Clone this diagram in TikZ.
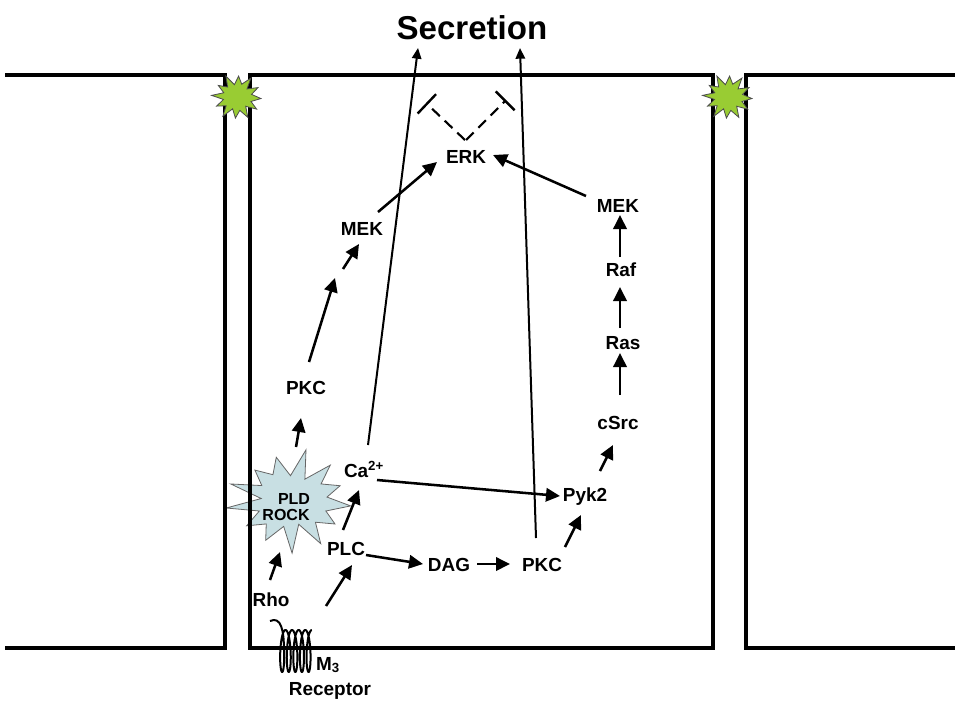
\documentclass[tikz,border=0pt]{standalone}
\usepackage{fontspec}
\setmainfont{Liberation Sans}
\usetikzlibrary{arrows.meta}
\definecolor{junction}{HTML}{99CC33}
\definecolor{pldfill}{HTML}{C8DFE3}
\begin{document}
\begin{tikzpicture}[x=0.75pt,y=-0.75pt,
  lbl/.style={font=\fontsize{14.2}{16}\selectfont\bfseries, inner sep=0pt},
  small/.style={font=\fontsize{12}{14}\selectfont\bfseries, inner sep=0pt},
  wall/.style={line width=2.5pt, line join=miter},
  arr/.style={line width=1.9pt, -{Triangle[length=10.5pt,width=10pt]}},
  secarr/.style={line width=1.5pt, -{Triangle[length=8pt,width=7pt]}},
  inhib/.style={line width=1.6pt, dash pattern=on 8pt off 5pt, -{Bar[width=20pt,line width=1.8pt]}},
]
\useasboundingbox (0,0) rectangle (955,700);

% PLD / ROCK burst
\coordinate (pld) at (291,501);
\draw[fill=pldfill, draw=black!60, line width=0.6pt]
  plot[samples at={0,...,25}]
  ({291 + (1+0.12*sin(\x*131))*(60 - 26*mod(\x,2))*cos(\x*360/26+6)},
   {501 + (1+0.12*sin(\x*131))*(47 - 20*mod(\x,2))*sin(\x*360/26+6)}) -- cycle;

% cell membranes
\draw[wall] (5,75) -- (225,75) -- (225,648) -- (5,648);
\draw[wall] (250,648) -- (250,75) -- (713,75) -- (713,648) -- cycle;
\draw[wall] (955,75) -- (746,75) -- (746,648) -- (955,648);

% tight junctions
\foreach \cx in {237,728}{
  \draw[fill=junction, draw=black!70, line width=0.6pt]
    plot[samples at={0,...,23}]
    ({\cx + (1+0.06*sin(\x*97))*(24 - 10*mod(\x,2))*cos(\x*15+4)},
     {97 + (1+0.06*sin(\x*97))*(22 - 9*mod(\x,2))*sin(\x*15+4)}) -- cycle;
}

% labels
\node (sec) at (472,28) {\fontsize{24.8}{28}\selectfont\bfseries Secretion};
\node[lbl] (erk) at (466,157) {ERK};
\node[lbl] (mekL) at (362,229) {MEK};
\node[lbl] (mekR) at (618,206) {MEK};
\node[lbl] (raf) at (621,270) {Raf};
\node[lbl] (ras) at (623,343) {Ras};
\node[lbl] (csrc) at (618,423) {cSrc};
\node[lbl] (pkcL) at (306,388) {PKC};
\node[lbl] (ca) at (364,469) {Ca\textsuperscript{2+}};
\node[lbl] (pyk2) at (585,497) {Pyk2};
\node[lbl] (plc) at (346,549) {PLC};
\node[lbl] (dag) at (449,565) {DAG};
\node[lbl] (pkcB) at (542,565) {PKC};
\node[lbl] (rho) at (271,600) {Rho};
\node[small] (pldtxt) at (294,499) {PLD};
\node[small] (rocktxt) at (286,515) {ROCK};
\node[lbl] (m3) at (328,665) {M\textsubscript{3}};
\node[lbl] (rec) at (330,691) {Receptor};

% M3 receptor coil
\draw[line width=1.5pt, line join=round]
  (270,621) .. controls (281,616) and (284,630) .. (284,651)
  -- plot[domain=0:4.75, samples=300, smooth]
  ({280.5+6.6*\x+3.5*cos(360*\x)},{651+21*sin(360*\x)});

% signalling arrows
\draw[arr] ([shift={(-1,-20)}]rho.center) -- ([shift={(-11,51)}]pld);
\draw[arr] ([shift={(-2,-59)}]m3.center) -- ([shift={(6,16)}]plc.center);
\draw[arr] ([shift={(-3,-19)}]plc.center) -- ([shift={(-5,21)}]ca.center);
\draw[arr] ([shift={(13,11)}]ca.center) -- ([shift={(-25,-1)}]pyk2.center);
\draw[arr] ([shift={(20,6)}]plc.center) -- ([shift={(-26,-1)}]dag.center);
\draw[arr] ([shift={(28,-1)}]dag.center) -- ([shift={(-32,-1)}]pkcB.center);
\draw[arr] ([shift={(23,-18)}]pkcB.center) -- ([shift={(-4,18)}]pyk2.center);
\draw[arr] ([shift={(15,-26)}]pyk2.center) -- ([shift={(-5,22)}]csrc.center);
\draw[arr] ([shift={(2,-28)}]csrc.center) -- ([shift={(-3,10)}]ras.center);
\draw[arr] ([shift={(-3,-15)}]ras.center) -- ([shift={(-1,17)}]raf.center);
\draw[arr] ([shift={(-1,-13)}]raf.center) -- ([shift={(2,9)}]mekR.center);
\draw[arr] ([shift={(-32,-10)}]mekR.center) -- ([shift={(27,-2)}]erk.center);
\draw[arr] ([shift={(16,-17)}]mekL.center) -- ([shift={(-29,5)}]erk.center);
\draw[arr] ([shift={(5,-54)}]pld) -- ([shift={(-5,30)}]pkcL.center);
\draw[arr] ([shift={(3,-26)}]pkcL.center) -- ([shift={(-27,49)}]mekL.center);
\draw[arr] ([shift={(-19,40)}]mekL.center) -- ([shift={(-3,15)}]mekL.center);

% routes to secretion
\draw[secarr] ([shift={(4,-24)}]ca.center) -- ([shift={(-54,20)}]sec.center);
\draw[secarr] ([shift={(-6,-27)}]pkcB.center) -- ([shift={(48,20)}]sec.center);

% feedback inhibition of ERK
\coordinate (blockL) at (426,103);
\coordinate (blockR) at (506,100);
\draw[inhib] ([shift={(-1,-17)}]erk.center) -- (blockL);
\draw[inhib] ([shift={(0,-17)}]erk.center) -- (blockR);
\end{tikzpicture}
\end{document}
